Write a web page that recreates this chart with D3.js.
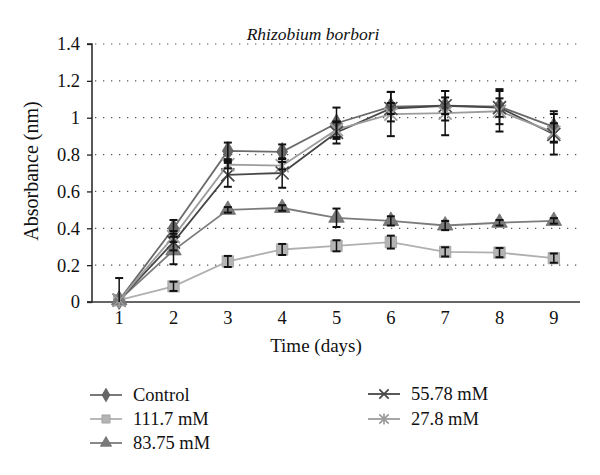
<!DOCTYPE html>
<html><head><meta charset="utf-8">
<script src="https://cdn.jsdelivr.net/npm/d3@7"></script>
<style>body{margin:0;background:#fff}svg{display:block}text{font-family:"Liberation Serif","DejaVu Serif",serif;fill:#111}</style>
</head><body><svg id="c" width="600" height="475"></svg>
<script>
const days = ["1","2","3","4","5","6","7","8","9"];
const yTicks = [0,0.2,0.4,0.6,0.8,1,1.2,1.4];
const seriesNames = ["Control","111.7 mM","83.75 mM","55.78 mM","27.8 mM"];
const control   = [0.01,0.40,0.82,0.815,0.97,1.06,1.065,1.06,0.95];
const control_e = [0.12,0.045,0.045,0.04,0.085,0.08,0.08,0.095,0.085];
const mM111     = [0.01,0.085,0.22,0.285,0.305,0.325,0.272,0.268,0.238];
const mM111_e   = [0,0.025,0.03,0.03,0.03,0.035,0.025,0.025,0.025];
const mM83      = [0.01,0.28,0.50,0.51,0.457,0.44,0.415,0.43,0.44];
const mM83_e    = [0,0.075,0.015,0.015,0.05,0.025,0.025,0.015,0.015];
const mM55      = [0.01,0.325,0.69,0.70,0.92,1.05,1.065,1.055,0.91];
const mM55_e    = [0,0.045,0.065,0.08,0.06,0.03,0.045,0.05,0.11];
const mM27      = [0.01,0.355,0.745,0.74,0.935,1.02,1.025,1.035,0.92];
const mM27_e    = [0,0.03,0.02,0.02,0.04,0.12,0.12,0.11,0.05];

const series = [
  {name:seriesNames[0], v:control, e:control_e, color:"#6a6a6a", sym:d3.symbolDiamond, size:100, mk:"#666666"},
  {name:seriesNames[1], v:mM111, e:mM111_e, color:"#b0b0b0", sym:d3.symbolSquare, size:130, mk:"#b4b4b4"},
  {name:seriesNames[2], v:mM83, e:mM83_e, color:"#7c7c7c", sym:d3.symbolTriangle, size:105, mk:"#7a7a7a"},
  {name:seriesNames[3], v:mM55, e:mM55_e, color:"#474747", sym:"x", size:6.5, mk:"#474747"},
  {name:seriesNames[4], v:mM27, e:mM27_e, color:"#9c9c9c", sym:"asterisk", size:6.5, mk:"#9c9c9c"}
];

const svg = d3.select("#c");
const x = d3.scaleBand().domain(days).range([92,581]);
const cx = d => x(d) + x.bandwidth()/2;
const y = d3.scaleLinear().domain([0,1.4]).range([302,44]);

// gridlines
svg.append("g").selectAll("line").data(yTicks.filter(t=>t>0)).join("line")
  .attr("x1",95).attr("x2",579).attr("y1",d=>y(d)).attr("y2",d=>y(d))
  .attr("stroke","#555").attr("stroke-width",1.2).attr("stroke-dasharray","1.3,6.7");

// y axis
const ya = svg.append("g").attr("transform","translate(92,0)")
  .call(d3.axisLeft(y).tickValues(yTicks).tickSize(5).tickPadding(7).tickFormat(d=>d3.format("")(+d.toFixed(1))));
ya.select(".domain").attr("stroke","#222").attr("stroke-width",1.5).attr("d","M-5,44H0V302H-5");
ya.selectAll(".tick line").attr("stroke","#222").attr("stroke-width",1.3);
ya.selectAll("text").style("font-size","18.5px").attr("fill","#111");

// x axis
const xa = svg.append("g").attr("transform","translate(0,302)")
  .call(d3.axisBottom(x).tickSize(0).tickPadding(9));
xa.select(".domain").attr("stroke","#333").attr("stroke-width",1.6).attr("d","M87,0H580");
xa.selectAll("text").style("font-size","18.5px").attr("fill","#111");

// labels
svg.append("text").attr("x",313).attr("y",40).attr("text-anchor","middle")
  .style("font-size","17.5px").style("font-style","italic").text("Rhizobium borbori");
svg.append("text").attr("transform","translate(38,171) rotate(-90)").attr("text-anchor","middle")
  .style("font-size","20px").text("Absorbance (nm)");
svg.append("text").attr("x",316).attr("y",352).attr("text-anchor","middle")
  .style("font-size","19px").text("Time (days)");

function drawMarker(g, s, px, py, k){
  k = k || 1;
  if (s.sym === "asterisk" || s.sym === "x"){
    const r = s.size*k;
    const p = d3.path();
    p.moveTo(px-r,py-r); p.lineTo(px+r,py+r);
    p.moveTo(px+r,py-r); p.lineTo(px-r,py+r);
    if (s.sym === "asterisk"){ p.moveTo(px,py-r*1.2); p.lineTo(px,py+r*1.2); }
    g.append("path").attr("d",p.toString()).attr("stroke",s.mk).attr("stroke-width",1.7).attr("fill","none");
  } else {
    g.append("path").attr("d",d3.symbol().type(s.sym).size(s.size*k*k)())
      .attr("transform",`translate(${px},${py})`).attr("fill",s.mk).attr("stroke",d3.color(s.mk).darker(0.3)).attr("stroke-width",0.8);
  }
}

const line = d3.line().x((d,i)=>cx(days[i])).y(d=>y(d));
const plot = svg.append("g");
series.forEach(s=>{
  plot.append("path").attr("d",line(s.v)).attr("fill","none").attr("stroke",s.color).attr("stroke-width",1.8);
});
series.forEach(s=>{
  s.v.forEach((v,i)=>drawMarker(plot,s,cx(days[i]),y(v)));
});
// error bars
const eb = svg.append("g").attr("stroke","#111");
series.forEach(s=>{
  s.v.forEach((v,i)=>{
    const e = s.e[i]; if(!e) return;
    const px = cx(days[i]);
    const hi = v+e, lo = Math.max(0, v-e);
    eb.append("line").attr("x1",px).attr("x2",px).attr("y1",y(hi)).attr("y2",y(lo)).attr("stroke-width",1.5);
    [hi,lo].forEach(t=>{ if(t>0) eb.append("line").attr("x1",px-4).attr("x2",px+4).attr("y1",y(t)).attr("y2",y(t)).attr("stroke-width",2); });
  });
});

// legend
const legPos = [[90,395],[90,419],[90,443],[368,394],[368,419]];
const leg = svg.append("g");
series.forEach((s,i)=>{
  const [lx,ly] = legPos[i];
  leg.append("line").attr("x1",lx).attr("x2",lx+32).attr("y1",ly).attr("y2",ly).attr("stroke",s.color).attr("stroke-width",1.8);
  drawMarker(leg,s,lx+16,ly,0.72);
  leg.append("text").attr("x",lx+43).attr("y",ly+6).style("font-size","18.5px").text(s.name);
});
</script></body></html>
